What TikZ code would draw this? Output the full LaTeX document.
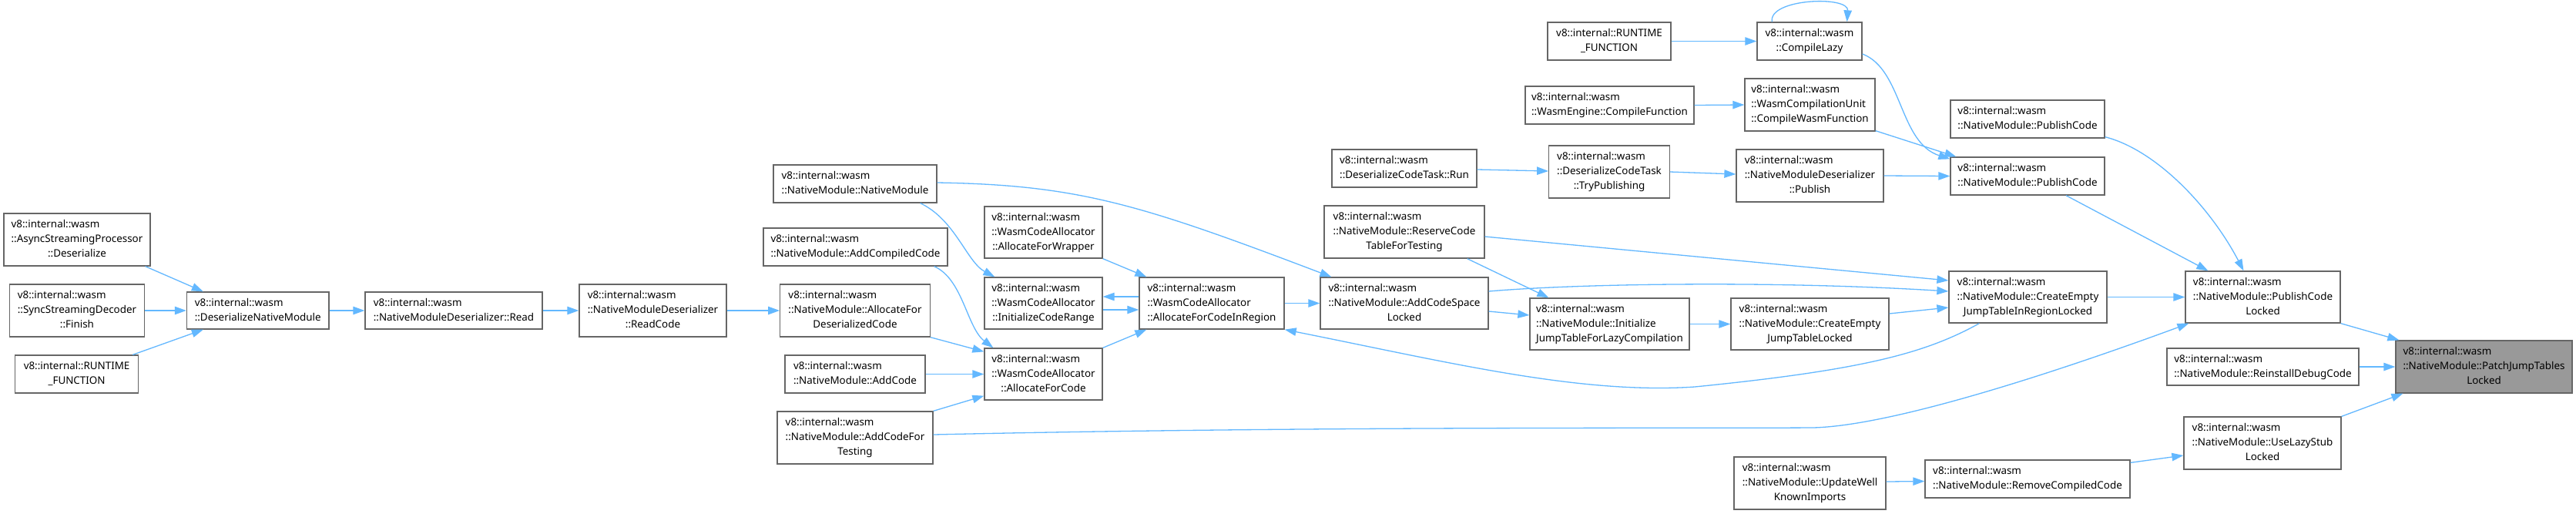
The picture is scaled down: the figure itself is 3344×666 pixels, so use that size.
\documentclass[tikz,border=0pt]{standalone}
\usepackage{fontspec}
\newfontfamily\dfont{Noto Sans}
\usetikzlibrary{arrows.meta,calc}
\definecolor{edgeblue}{HTML}{63B8FF}
\definecolor{boxgray}{HTML}{666666}
\definecolor{hlgray}{HTML}{999999}
\newcommand\twoL[2]{\begin{tabular}{@{}l@{}}#1\\\multicolumn{1}{@{}c@{}}{#2}\end{tabular}}
\newcommand\threeL[3]{\begin{tabular}{@{}l@{}}#1\\#2\\\multicolumn{1}{@{}c@{}}{#3}\end{tabular}}
\begin{document}
\begin{tikzpicture}[x=0.5pt,y=-0.5pt,
  box/.style={draw=boxgray, line width=0.65pt, fill=white, inner sep=0pt,
    font=\dfont\fontsize{6.7}{9.5}\selectfont, align=center},
  sz/.style 2 args={minimum width=#1*0.5pt, minimum height=#2*0.5pt},
  edge/.style={draw=edgeblue, line width=0.65pt, -{Triangle[length=7.5pt,width=5.2pt]}}]
\useasboundingbox[fill=white] (0,0) rectangle (3344,666);

\node[box,sz={190}{68}] (async) at (100,311) {\threeL{v8::internal::wasm}{::AsyncStreamingProcessor}{::Deserialize}};
\node[box,sz={175}{68}] (sync) at (100,403) {\threeL{v8::internal::wasm}{::SyncStreamingDecoder}{::Finish}};
\node[box,sz={160}{49}] (runl) at (99.6,485.5) {\twoL{v8::internal::RUNTIME}{\_FUNCTION}};
\node[box,sz={184.5}{48}] (dnm) at (334.75,403) {\twoL{v8::internal::wasm}{::DeserializeNativeModule}};
\node[box,sz={230}{48}] (read) at (589,403) {\twoL{v8::internal::wasm}{::NativeModuleDeserializer::Read}};
\node[box,sz={191}{68}] (readcode) at (847.5,403) {\threeL{v8::internal::wasm}{::NativeModuleDeserializer}{::ReadCode}};
\node[box,sz={212}{49}] (nmnm) at (1110,238.5) {\twoL{v8::internal::wasm}{::NativeModule::NativeModule}};
\node[box,sz={239}{49}] (addcomp) at (1110.5,320.5) {\twoL{v8::internal::wasm}{::NativeModule::AddCompiledCode}};
\node[box,sz={194.5}{68}] (afdc) at (1110,403) {\threeL{v8::internal::wasm}{::NativeModule::AllocateFor}{DeserializedCode}};
\node[box,sz={182}{49}] (addcode) at (1110,485.5) {\twoL{v8::internal::wasm}{::NativeModule::AddCode}};
\node[box,sz={202}{68}] (acft) at (1110,568) {\threeL{v8::internal::wasm}{::NativeModule::AddCodeFor}{Testing}};
\node[box,sz={153}{67}] (afw) at (1354.5,301.5) {\threeL{v8::internal::wasm}{::WasmCodeAllocator}{::AllocateForWrapper}};
\node[box,sz={153}{67}] (icr) at (1354.5,393.5) {\threeL{v8::internal::wasm}{::WasmCodeAllocator}{::InitializeCodeRange}};
\node[box,sz={153}{67}] (afc) at (1354.5,485.5) {\threeL{v8::internal::wasm}{::WasmCodeAllocator}{::AllocateForCode}};
\node[box,sz={188}{67}] (acir) at (1573,393.5) {\threeL{v8::internal::wasm}{::WasmCodeAllocator}{::AllocateForCodeInRegion}};
\node[box,sz={218}{67}] (acsl) at (1823,393.5) {\threeL{v8::internal::wasm}{::NativeModule::AddCodeSpace}{Locked}};
\node[box,sz={188}{49}] (dctrun) at (1823,218.5) {\twoL{v8::internal::wasm}{::DeserializeCodeTask::Run}};
\node[box,sz={208}{68}] (rctft) at (1823,301) {\threeL{v8::internal::wasm}{::NativeModule::ReserveCode}{TableForTesting}};
\node[box,sz={160}{49}] (runt) at (2089,53.5) {\twoL{v8::internal::RUNTIME}{\_FUNCTION}};
\node[box,sz={219}{49}] (wecf) at (2089.5,136.5) {\twoL{v8::internal::wasm}{::WasmEngine::CompileFunction}};
\node[box,sz={156.5}{68}] (tryp) at (2089,223) {\threeL{v8::internal::wasm}{::DeserializeCodeTask}{::TryPublishing}};
\node[box,sz={207}{67}] (ijt) at (2089.5,420.5) {\threeL{v8::internal::wasm}{::NativeModule::Initialize}{JumpTableForLazyCompilation}};
\node[box,sz={136}{49}] (cl) at (2349,53.5) {\twoL{v8::internal::wasm}{::CompileLazy}};
\node[box,sz={169}{68}] (cwf) at (2349.5,136) {\threeL{v8::internal::wasm}{::WasmCompilationUnit}{::CompileWasmFunction}};
\node[box,sz={191}{68}] (publish) at (2349.5,228) {\threeL{v8::internal::wasm}{::NativeModuleDeserializer}{::Publish}};
\node[box,sz={205}{67}] (cejtl) at (2349.5,420.5) {\threeL{v8::internal::wasm}{::NativeModule::CreateEmpty}{JumpTableLocked}};
\node[box,sz={197}{68}] (uwki) at (2349.5,627) {\threeL{v8::internal::wasm}{::NativeModule::UpdateWell}{KnownImports}};
\node[box,sz={200}{49}] (pc1) at (2632,154.5) {\twoL{v8::internal::wasm}{::NativeModule::PublishCode}};
\node[box,sz={200}{49}] (pc2) at (2632,228.5) {\twoL{v8::internal::wasm}{::NativeModule::PublishCode}};
\node[box,sz={205}{67}] (cejtirl) at (2632.5,385.5) {\threeL{v8::internal::wasm}{::NativeModule::CreateEmpty}{JumpTableInRegionLocked}};
\node[box,sz={266}{49}] (rcc) at (2632,621.5) {\twoL{v8::internal::wasm}{::NativeModule::RemoveCompiledCode}};
\node[box,sz={201}{67}] (pcl) at (2937.5,385.5) {\threeL{v8::internal::wasm}{::NativeModule::PublishCode}{Locked}};
\node[box,sz={249}{48}] (rdc) at (2937.5,476) {\twoL{v8::internal::wasm}{::NativeModule::ReinstallDebugCode}};
\node[box,sz={204}{68}] (uls) at (2937,575) {\threeL{v8::internal::wasm}{::NativeModule::UseLazyStub}{Locked}};
\node[box,sz={229}{68},fill=hlgray] (pjt) at (3224.5,476) {\threeL{v8::internal::wasm}{::NativeModule::PatchJumpTables}{Locked}};

% edges
\draw[edge] ($(async.south east)+(-7,0)$) -- ($(dnm.north west)+(22,0)$);
\draw[edge] (sync.east) -- (dnm.west);
\draw[edge] ($(runl.north east)+(-8,0)$) -- ($(dnm.south west)+(22,0)$);
\draw[edge] (dnm.east) -- (read.west);
\draw[edge] (read.east) -- (readcode.west);
\draw[edge] (readcode.east) -- (afdc.west);
\draw[edge] (afdc.south east) -- ($(afc.north west)+(0,5)$);
\draw[edge] ($(addcomp.south east)+(-18,0)$) .. controls (1250,362) and (1255,425) .. ($(afc.north west)+(12,0)$);
\draw[edge] (addcode.east) -- (afc.west);
\draw[edge] (acft.north east) -- ($(afc.south west)+(0,-6)$);
\draw[edge] ($(nmnm.south east)+(-22,0)$) .. controls (1240,285) and (1255,340) .. ($(icr.north west)+(14,0)$);
\draw[edge] ($(nmnm.east)+(0,-1.5)$) .. controls (1400,240) and (1480,265) .. ($(acsl.north west)+(15,0)$);
\draw[edge] (afw.south east) -- ($(acir.north west)+(10,0)$);
\draw[edge] ($(acir.west)+(0,-8.5)$) -- ($(icr.east)+(0,-8.5)$);
\draw[edge] ($(icr.east)+(0,8.5)$) -- ($(acir.west)+(0,8.5)$);
\draw[edge] (afc.north east) -- ($(acir.south west)+(10,0)$);
\draw[edge] (acir.east) -- (acsl.west);
\draw[edge] ($(cejtirl.south west)+(40,0)$) .. controls (2500,458) and (2420,480) .. (2200,502)
  .. controls (2050,512) and (1880,470) .. (acir.south east);
\draw[edge] ($(acft.east)+(0,-4)$) .. controls (1700,553) and (2200,556) .. (2353,555)
  .. controls (2450,553) and (2650,490) .. ($(pcl.south west)+(5,0)$);
\draw[edge] ($(acsl.east)+(0,-15.5)$) .. controls (2050,368) and (2300,364) .. ($(cejtirl.west)+(0,-7.5)$);
\draw[edge] ($(acsl.east)+(0,10.5)$) -- ($(ijt.west)+(0,-11.5)$);
\draw[edge] ($(rctft.east)+(0,6)$) -- ($(cejtirl.west)+(0,-21.5)$);
\draw[edge] ($(rctft.south east)+(-23,0)$) -- ($(ijt.north west)+(25,0)$);
\draw[edge] (ijt.east) -- (cejtl.west);
\draw[edge] ($(cejtl.east)+(0,-13.5)$) -- ($(cejtirl.west)+(0,13.5)$);
\draw[edge] (cejtirl.east) -- (pcl.west);
\draw[edge] ($(dctrun.east)+(0,1.5)$) -- ($(tryp.west)+(0,-1)$);
\draw[edge] (tryp.east) -- ($(publish.west)+(0,-2)$);
\draw[edge] (publish.east) -- (pc2.west);
\draw[edge] (runt.east) -- (cl.west);
\draw[edge] ($(cl.north west)+(20,0)$) .. controls (2295,-2) and (2400,-6) .. ($(cl.north east)+(-20,0)$);
\draw[edge] ($(cl.east)+(0,16.5)$) .. controls (2470,90) and (2465,185) .. ($(pc2.north west)+(0,3)$);
\draw[edge] (wecf.east) -- (cwf.west);
\draw[edge] ($(cwf.south east)+(0,-1)$) -- ($(pc2.north west)+(8,0)$);
\draw[edge] ($(pc2.south)+(50,0)$) -- ($(pcl.north west)+(30,0)$);
\draw[edge] ($(pc1.south east)+(0,-2)$) .. controls (2800,195) and (2870,270) .. ($(pcl.north)+(-25,0)$);
\draw[edge] (pcl.south east) -- ($(pjt.north west)+(5,0)$);
\draw[edge] (rdc.east) -- (pjt.west);
\draw[edge] (uls.north east) -- ($(pjt.south west)+(10,0)$);
\draw[edge] ($(uwki.east)+(0,-2)$) -- ($(rcc.west)+(0,3)$);
\draw[edge] ($(rcc.north east)+(0,4)$) -- ($(uls.west)+(0,16)$);
\end{tikzpicture}
\end{document}
